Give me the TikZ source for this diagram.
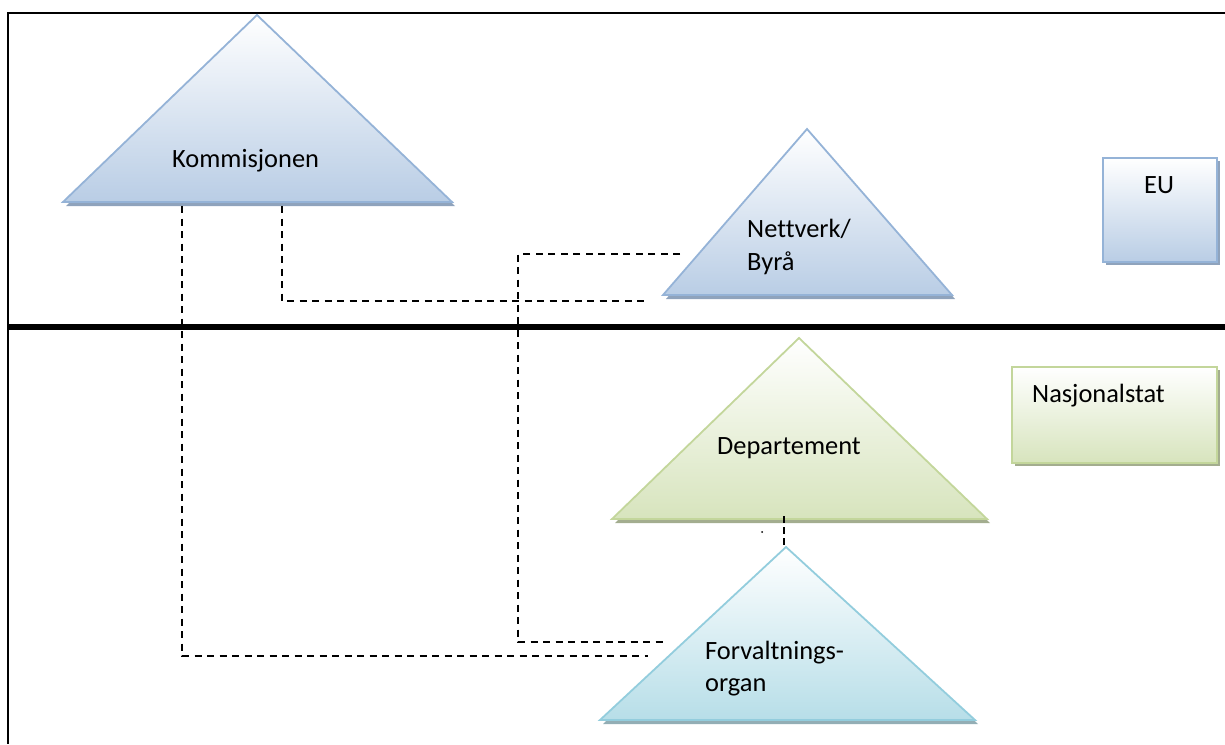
\documentclass[tikz,border=0pt]{standalone}
\usepackage{fontspec}
\setmainfont{Carlito}[Ligatures=NoCommon]
\definecolor{bluebd}{HTML}{95B3D7}
\definecolor{bluefill}{HTML}{B9CDE5}
\definecolor{blueshd}{HTML}{8FA3BC}
\definecolor{greenbd}{HTML}{C3D69B}
\definecolor{greenfill}{HTML}{D7E4BD}
\definecolor{greenshd}{HTML}{A3AD8F}
\definecolor{tealbd}{HTML}{93CDDD}
\definecolor{tealfill}{HTML}{B7DEE8}
\definecolor{tealshd}{HTML}{93AEB5}
\begin{document}
\begin{tikzpicture}[x=1pt,y=-1pt,
  lbl/.style={font=\fontsize{26.4}{33}\selectfont, anchor=base west, inner sep=0pt},
  bluesh/.style={fill=blueshd, draw=none},
  greensh/.style={fill=greenshd, draw=none},
  tealsh/.style={fill=tealshd, draw=none},
  bluetri/.style={draw=bluebd, line width=1.8pt, line join=miter, top color=white, bottom color=bluefill},
  greentri/.style={draw=greenbd, line width=1.8pt, line join=miter, top color=white, bottom color=greenfill},
  tealtri/.style={draw=tealbd, line width=1.8pt, line join=miter, top color=white, bottom color=tealfill},
  conn/.style={line width=1.6pt, dash pattern=on 7pt off 5.5pt},
  frameline/.style={line width=2pt},
  divider/.style={line width=6pt}]
\useasboundingbox (0,0) rectangle (1225,744);

% frame
\coordinate (fTL) at (8,13);
\coordinate (fTR) at (1225,13);
\coordinate (fBL) at (8,744);
\draw[frameline] (fTR) -- (fTL) -- (fBL);
% divider
\coordinate (dL) at (8,327);
\coordinate (dR) at (1225,327);
\draw[divider] (dL) -- (dR);

% Kommisjonen
\fill[bluesh] (260,19) -- (455,206) -- (66,206) -- cycle;
\draw[bluetri] (257,15) -- (452,202) -- (63,202) -- cycle;
\node[lbl] (kom) at (172,167) {Kommisjonen};

% Nettverk/Byra
\fill[bluesh] (810,133) -- (955,299) -- (666,299) -- cycle;
\draw[bluetri] (807,129) -- (952,295) -- (663,295) -- cycle;
\node[lbl] (nett1) at (747,237) {Nettverk/};
\node[lbl] (nett2) at (747,270) {Byrå};

% Departement
\fill[greensh] (802,342) -- (990,523) -- (615,523) -- cycle;
\draw[greentri] (799,338) -- (987,519) -- (612,519) -- cycle;
\node[lbl] (dep) at (717,454) {Departement};

% Forvaltningsorgan
\fill[tealsh] (789,551) -- (978,724) -- (603,724) -- cycle;
\draw[tealtri] (786,547) -- (975,720) -- (600,720) -- cycle;
\node[lbl] (forv1) at (705,659) {Forvaltnings-};
\node[lbl] (forv2) at (705,691) {organ};

% EU box
\fill[blueshd] (1106,161) rectangle (1220,265);
\draw[draw=bluebd, line width=1.8pt, top color=white, bottom color=bluefill] (1103,158) rectangle (1217,262);
\node[lbl] (eu) at (1144,193) {EU};

% Nasjonalstat box
\fill[greenshd] (1015,370) rectangle (1220,466);
\draw[draw=greenbd, line width=1.8pt, top color=white, bottom color=greenfill] (1012,367) rectangle (1217,463);
\node[lbl] (nas) at (1032,402) {Nasjonalstat};

% dashed connectors
\coordinate (k1a) at (182,206);
\coordinate (k1b) at (648,656);
\draw[conn] (k1a) |- (k1b);
\coordinate (k2a) at (282,206);
\coordinate (k2b) at (648,301);
\draw[conn] (k2a) |- (k2b);
\coordinate (n3a) at (680,254);
\coordinate (n3c) at (518,254);
\coordinate (n3d) at (518,642);
\coordinate (n3b) at (665,642);
\draw[conn] (n3a) -- (n3c) -- (n3d) -- (n3b);
\coordinate (d4a) at (784,516);
\coordinate (d4b) at (784,548);
\draw[conn, dash pattern=on 7pt off 4pt] (d4a) -- (d4b);
\coordinate (dot) at (762,532);
\fill (dot) circle (1pt);
\end{tikzpicture}
\end{document}
